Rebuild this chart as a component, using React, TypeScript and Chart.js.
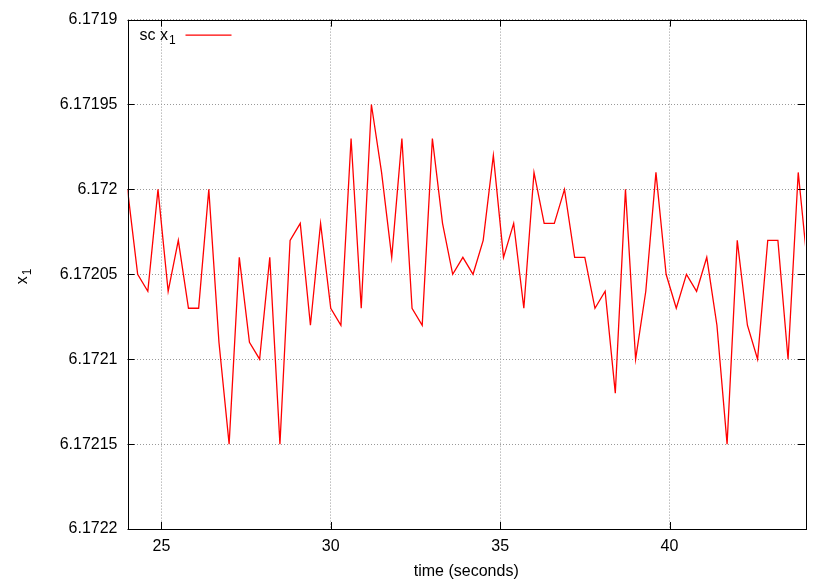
import React, { useEffect, useRef } from 'react';
import { Chart, registerables } from 'chart.js';
Chart.register(...registerables);

const times = [
  24.0, 24.3, 24.6, 24.9, 25.2, 25.5, 25.8, 26.1, 26.4, 26.7,
  27.0, 27.3, 27.6, 27.9, 28.2, 28.5, 28.8, 29.1, 29.4, 29.7,
  30.0, 30.3, 30.6, 30.9, 31.2, 31.5, 31.8, 32.1, 32.4, 32.7,
  33.0, 33.3, 33.6, 33.9, 34.2, 34.5, 34.8, 35.1, 35.4, 35.7,
  36.0, 36.3, 36.6, 36.9, 37.2, 37.5, 37.8, 38.1, 38.4, 38.7,
  39.0, 39.3, 39.6, 39.9, 40.2, 40.5, 40.8, 41.1, 41.4, 41.7,
  42.0, 42.3, 42.6, 42.9, 43.2, 43.5, 43.8, 44.1,
];
const scX1 = [
  6.17200, 6.17205, 6.17206, 6.17200, 6.17206, 6.17203, 6.17207, 6.17207, 6.17200, 6.17209,
  6.17215, 6.17204, 6.17209, 6.17210, 6.17204, 6.17215, 6.17203, 6.17202, 6.17208, 6.17202,
  6.17207, 6.17208, 6.17197, 6.17207, 6.17195, 6.17199, 6.17204, 6.17197, 6.17207, 6.17208,
  6.17197, 6.17202, 6.17205, 6.17204, 6.17205, 6.17203, 6.17198, 6.17204, 6.17202, 6.17207,
  6.17199, 6.17202, 6.17202, 6.17200, 6.17204, 6.17204, 6.17207, 6.17206, 6.17212, 6.17200,
  6.17210, 6.17206, 6.17199, 6.17205, 6.17207, 6.17205, 6.17206, 6.17204, 6.17208, 6.17215,
  6.17203, 6.17208, 6.17210, 6.17203, 6.17203, 6.17210, 6.17199, 6.17205,
];
const xTicks = [25, 30, 35, 40];
const yTicks = [6.1719, 6.17195, 6.172, 6.17205, 6.1721, 6.17215, 6.1722];
const yTickLabels = ['6.1719', '6.17195', '6.172', '6.17205', '6.1721', '6.17215', '6.1722'];
const seriesName = 'sc x';
const seriesSub = '1';
const yTitle = 'x';
const yTitleSub = '1';
const xTitle = 'time (seconds)';

const FONT = '"Liberation Sans", Arial, Helvetica, sans-serif';

const framePlugin = {
  id: 'gnuFrame',
  afterDatasetsDraw(chart: any) {
    const { ctx, chartArea } = chart;
    const { left, right, top, bottom } = chartArea;
    const xs = chart.scales.x;
    const ys = chart.scales.y;
    const tl = 7;
    ctx.save();
    ctx.strokeStyle = '#000';
    ctx.lineWidth = 1;
    ctx.beginPath();
    for (const v of yTicks) {
      const py = Math.round(ys.getPixelForValue(v)) + 0.5;
      ctx.moveTo(left, py); ctx.lineTo(left + tl, py);
      ctx.moveTo(right, py); ctx.lineTo(right - tl, py);
    }
    for (const v of xTicks) {
      const px = Math.round(xs.getPixelForValue(v)) + 0.5;
      ctx.moveTo(px, bottom); ctx.lineTo(px, bottom - tl);
      ctx.moveTo(px, top); ctx.lineTo(px, top + tl);
    }
    ctx.stroke();
    ctx.strokeRect(Math.round(left) + 0.5, Math.round(top) + 0.5, Math.round(right - left), Math.round(bottom - top));

    // legend
    ctx.fillStyle = '#000';
    ctx.font = `16px ${FONT}`;
    ctx.textBaseline = 'alphabetic';
    ctx.textAlign = 'left';
    const lx = left + 12;
    const ly = top + 20;
    ctx.fillText(seriesName, lx, ly);
    const w = ctx.measureText(seriesName).width;
    ctx.font = `12px ${FONT}`;
    ctx.fillText(seriesSub, lx + w + 1, ly + 4);
    ctx.strokeStyle = '#ff0000';
    ctx.lineWidth = 1.3;
    ctx.beginPath();
    ctx.moveTo(left + 58, top + 15.5);
    ctx.lineTo(left + 104, top + 15.5);
    ctx.stroke();

    // y title
    ctx.fillStyle = '#000';
    ctx.translate(27, (top + bottom) / 2 + 4);
    ctx.rotate(-Math.PI / 2);
    ctx.font = `16px ${FONT}`;
    ctx.textAlign = 'left';
    ctx.fillText(yTitle, -6, 0);
    const wt = ctx.measureText(yTitle).width;
    ctx.font = `12px ${FONT}`;
    ctx.fillText(yTitleSub, -6 + wt + 1, 4);
    ctx.restore();
  },
};

export default function App() {
  const ref = useRef<HTMLCanvasElement>(null);
  useEffect(() => {
    if (!ref.current) return;
    const data = times.map((t, i) => ({ x: t, y: scX1[i] }));
    const chart = new Chart(ref.current, {
      type: 'line',
      data: {
        datasets: [
          {
            label: seriesName + seriesSub,
            data,
            borderColor: '#ff0000',
            borderWidth: 1.3,
            pointRadius: 0,
            tension: 0,
            fill: false,
          },
        ],
      },
      options: {
        animation: false,
        responsive: false,
        layout: { padding: { left: 0, right: 25, top: 19, bottom: 0 } },
        plugins: { legend: { display: false }, tooltip: { enabled: false } },
        scales: {
          x: {
            type: 'linear',
            min: 24,
            max: 44,
            afterBuildTicks: (s: any) => { s.ticks = xTicks.map((v) => ({ value: v })); },
            afterFit: (s: any) => { s.height = 52; },
            grid: { color: '#999999', lineWidth: 1, drawTicks: false },
            border: { display: false, dash: [1, 2] },
            ticks: { color: '#000', font: { family: FONT, size: 16 }, padding: 8, maxRotation: 0, callback: (v: any) => String(v) },
            title: { display: true, text: xTitle, color: '#000', font: { family: FONT, size: 16 }, padding: { top: 0, bottom: 0 } },
          },
          y: {
            type: 'linear',
            reverse: true,
            min: 6.1719,
            max: 6.1722,
            afterBuildTicks: (s: any) => { s.ticks = yTicks.map((v) => ({ value: v })); },
            afterFit: (s: any) => { s.width = 127.5; },
            grid: { color: '#999999', lineWidth: 1, drawTicks: false },
            border: { display: false, dash: [1, 2] },
            ticks: {
              color: '#000',
              font: { family: FONT, size: 16 },
              padding: 10,
              callback: (v: any) => {
                const i = yTicks.findIndex((t) => Math.abs(t - v) < 1e-9);
                return i >= 0 ? yTickLabels[i] : '';
              },
            },
          },
        },
      },
      plugins: [framePlugin],
    });
    return () => chart.destroy();
  }, []);
  return (
    <div style={{ position: 'fixed', left: 0, top: 0, width: 830, height: 581, background: '#fff' }}>
      <canvas ref={ref} width={830} height={581} />
    </div>
  );
}
